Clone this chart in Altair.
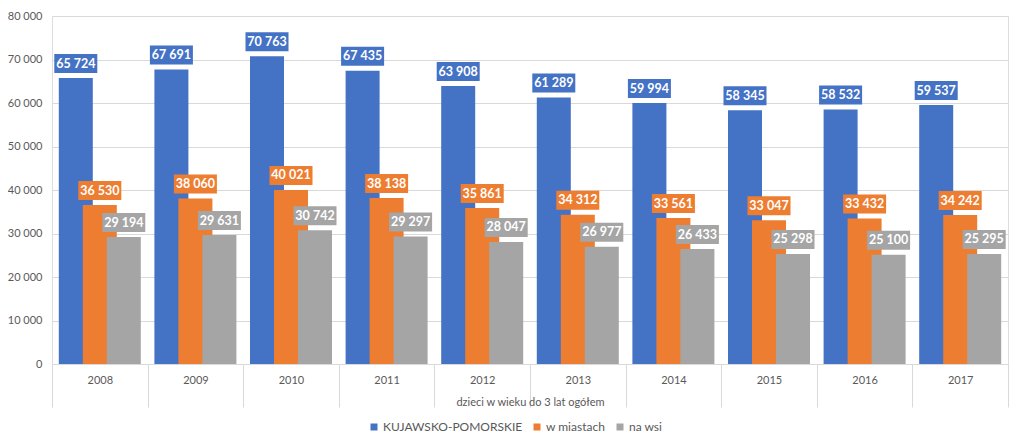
import altair as alt
import pandas as pd

years = ["2008", "2009", "2010", "2011", "2012", "2013", "2014", "2015", "2016", "2017"]
series = ["KUJAWSKO-POMORSKIE", "w miastach", "na wsi"]
kp = [65724, 67691, 70763, 67435, 63908, 61289, 59994, 58345, 58532, 59537]
miasta = [36530, 38060, 40021, 38138, 35861, 34312, 33561, 33047, 33432, 34242]
wsi = [29194, 29631, 30742, 29297, 28047, 26977, 26433, 25298, 25100, 25295]
colors = ["#4472C4", "#ED7D31", "#A5A5A5"]
y_ticks = [0, 10000, 20000, 30000, 40000, 50000, 60000, 70000, 80000]

rows = []
for s, vals in zip(series, [kp, miasta, wsi]):
    for y, v in zip(years, vals):
        rows.append({"year": y, "series": s, "value": v})
df = pd.DataFrame(rows)

FONT = "Lato"
TXT = "#595959"

x_enc = alt.X(
    "year:N",
    sort=years,
    scale=alt.Scale(paddingInner=0, paddingOuter=0),
    axis=alt.Axis(
        title="dzieci w wieku do 3 lat ogółem",
        labelAngle=0,
        labelFont=FONT,
        labelFontSize=11,
        labelColor=TXT,
        tickBand="extent",
        tickSize=43,
        tickColor="#D9D9D9",
        domainColor="#D9D9D9",
        labelPadding=-33,
        titleFont=FONT,
        titleFontSize=11,
        titleFontWeight="normal",
        titleColor=TXT,
        titleY=38,
        titleBaseline="middle",
    ),
)
y_enc = alt.Y(
    "value:Q",
    scale=alt.Scale(domain=[0, 80000], nice=False),
    axis=alt.Axis(
        title=None,
        values=y_ticks,
        format=",d",
        domain=False,
        ticks=False,
        labelPadding=10,
        labelFont=FONT,
        labelFontSize=11,
        labelColor=TXT,
        gridColor="#D9D9D9",
    ),
)
color_enc = alt.Color(
    "series:N",
    sort=series,
    scale=alt.Scale(domain=series, range=colors),
    legend=alt.Legend(
        title=None,
        orient="none",
        direction="horizontal",
        legendX=316,
        legendY=405,
        symbolType="square",
        symbolSize=49,
        symbolStrokeWidth=0,
        labelFont=FONT,
        labelFontSize=12,
        labelColor=TXT,
        columnPadding=8,
        labelOffset=3,
    ),
)

base = alt.Chart(df)
offsets = [-24, 0, 24]
bars = []
boxes = []
texts = []
for s, off in zip(series, offsets):
    sub = base.transform_filter(alt.datum.series == s)
    bars.append(
        sub.mark_bar(width=34, xOffset=off).encode(x=x_enc, y=y_enc, color=color_enc)
    )
    boxes.append(
        sub.mark_bar(width=43, xOffset=off, yOffset=-24, y2Offset=-5).encode(
            x=alt.X("year:N", sort=years),
            y=alt.Y("value:Q"),
            y2="value:Q",
            color=alt.Color("series:N", legend=None),
        )
    )
    texts.append(
        sub.mark_text(
            dx=off, dy=-14.5, font=FONT, fontSize=12.5, fontWeight="bold", color="white",
            baseline="middle", align="center",
        ).encode(
            x=alt.X("year:N", sort=years),
            y=alt.Y("value:Q"),
            text=alt.Text("value:Q", format=",d"),
        )
    )

chart = (
    alt.layer(*bars, *boxes, *texts)
    .properties(
        width=956,
        height=348,
        autosize=alt.AutoSizeParams(type="none"),
        padding={"left": 44, "top": 8, "right": 8, "bottom": 76},
    )
    .configure_view(strokeWidth=0)
    .configure(locale={"number": {"decimal": ",", "thousands": " ", "grouping": [3], "currency": ["", " zł"]}})
)

chart.save("out.html", embed_options={"renderer": "svg", "actions": False})
